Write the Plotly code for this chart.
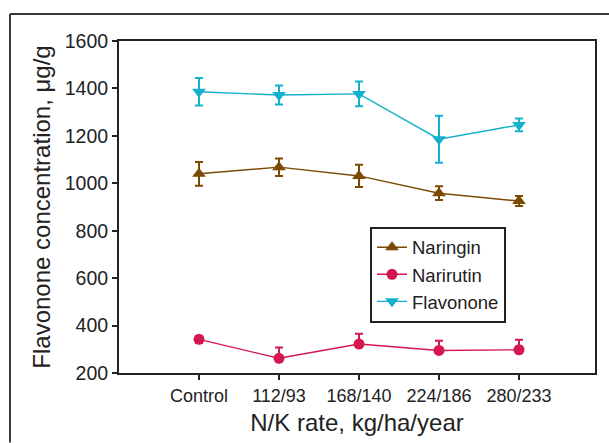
import plotly.graph_objects as go

categories = ["Control", "112/93", "168/140", "224/186", "280/233"]
naringin = [1040, 1068, 1031, 958, 925]
naringin_err = [50, 37, 47, 29, 21]
narirutin = [342, 262, 322, 295, 298]
narirutin_err_up = [14, 46, 44, 41, 42]
narirutin_err_down = [14, 0, 0, 0, 0]
flavonone = [1386, 1372, 1377, 1186, 1246]
flavonone_err = [58, 40, 52, 99, 27]
y_ticks = [200, 400, 600, 800, 1000, 1200, 1400, 1600]

FONT = "Liberation Sans, Arial, Helvetica, sans-serif"
xs = list(range(len(categories)))

c_nar = "#7b4a00"
c_nrt = "#d4174c"
c_fla = "#12b0cc"

fig = go.Figure()
fig.add_trace(go.Scatter(
    x=xs, y=naringin, name="Naringin", mode="lines+markers",
    line=dict(color=c_nar, width=1.4),
    marker=dict(symbol="triangle-up", size=12, color=c_nar),
    error_y=dict(type="data", array=naringin_err, color=c_nar, thickness=2, width=4),
))
fig.add_trace(go.Scatter(
    x=xs, y=narirutin, name="Narirutin", mode="lines+markers",
    line=dict(color=c_nrt, width=1.4),
    marker=dict(symbol="circle", size=11, color=c_nrt),
    error_y=dict(type="data", symmetric=False, array=narirutin_err_up,
                 arrayminus=narirutin_err_down, color=c_nrt, thickness=2, width=4),
))
fig.add_trace(go.Scatter(
    x=xs, y=flavonone, name="Flavonone", mode="lines+markers",
    line=dict(color=c_fla, width=1.4),
    marker=dict(symbol="triangle-down", size=12, color=c_fla),
    error_y=dict(type="data", array=flavonone_err, color=c_fla, thickness=2, width=4),
))

# outer frame (left and top edges)
L, R, T, B = 119, 595, 41, 373.5
pw, ph = R - L, B - T
def px(x): return (x - L) / pw
def py(y): return (B - y) / ph
fig.add_shape(type="line", xref="paper", yref="paper",
              x0=px(10), x1=px(609), y0=py(14), y1=py(14),
              line=dict(color="#3a3a3a", width=2))
fig.add_shape(type="line", xref="paper", yref="paper",
              x0=px(10), x1=px(10), y0=py(14), y1=py(443),
              line=dict(color="#3a3a3a", width=2))

fig.update_layout(
    width=609, height=443,
    margin=dict(l=L, r=609 - R, t=T, b=443 - B),
    paper_bgcolor="white", plot_bgcolor="white",
    font=dict(family=FONT, color="#222222"),
    showlegend=True,
    legend=dict(x=px(370), y=py(227), xanchor="left", yanchor="top",
                bordercolor="#222222", borderwidth=2, bgcolor="white",
                font=dict(size=18.5, family=FONT, color="#222222"),
                itemwidth=30, tracegroupgap=0, entrywidth=100),
    xaxis=dict(
        range=[-1, 4.95], tickvals=xs, ticktext=categories,
        showline=True, linecolor="#222222", linewidth=2, mirror=True,
        ticks="outside", ticklen=5, tickwidth=1.5, tickcolor="#222222",
        showgrid=False, zeroline=False,
        tickfont=dict(size=18, family=FONT, color="#222222"),
        title=dict(text="N/K rate, kg/ha/year", standoff=10,
                   font=dict(size=24, family=FONT, color="#222222")),
    ),
    yaxis=dict(
        range=[200, 1600], tickvals=y_ticks,
        showline=True, linecolor="#222222", linewidth=2, mirror=True,
        ticks="outside", ticklen=5, tickwidth=1.5, tickcolor="#222222",
        showgrid=False, zeroline=False,
        tickfont=dict(size=19.5, family=FONT, color="#222222"),
        title=dict(text="Flavonone concentration, μg/g", standoff=7,
                   font=dict(size=24, family=FONT, color="#222222")),
    ),
)

fig.write_html("out.html", config={"displayModeBar": False},
               post_script="document.body.style.margin='0';document.body.style.padding='0';")
